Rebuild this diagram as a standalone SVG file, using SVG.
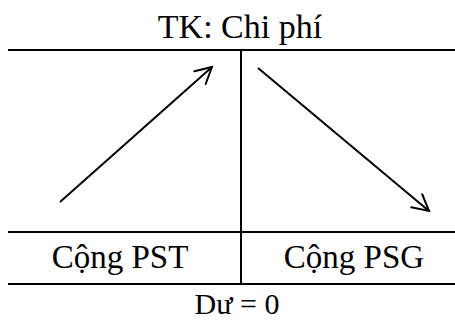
<svg xmlns="http://www.w3.org/2000/svg" width="455" height="322" viewBox="0 0 455 322">
  <style>
    .rule { stroke: #000; stroke-width: 2; fill: none; }
    .flow { stroke: #000; stroke-width: 2; fill: none; marker-end: url(#head); }
    .lbl { font-family: "Liberation Serif", "Times New Roman", serif; fill: #000; text-anchor: middle; }
  </style>
  <defs>
    <marker id="head" viewBox="0 0 20 20" refX="18" refY="10" markerWidth="20" markerHeight="20" markerUnits="userSpaceOnUse" orient="auto">
      <path d="M2,1.5 L18,10 L2,18.5" stroke="#000" stroke-width="2" fill="none" stroke-linecap="round" stroke-linejoin="miter"/>
    </marker>
  </defs>

  <g id="title">
    <text class="lbl" x="240" y="38" font-size="34">TK: Chi phí</text>
  </g>

  <g id="account-frame">
    <line class="rule" x1="8" y1="50" x2="455" y2="50"/>
    <line class="rule" x1="241" y1="50" x2="241" y2="284"/>
    <line class="rule" x1="8" y1="232" x2="455" y2="232"/>
    <line class="rule" x1="8" y1="284" x2="455" y2="284"/>
  </g>

  <g id="debit-total">
    <text class="lbl" x="120" y="268" font-size="33">Cộng PST</text>
  </g>
  <g id="credit-total">
    <text class="lbl" x="354" y="268" font-size="33">Cộng PSG</text>
  </g>
  <g id="balance">
    <text class="lbl" x="237" y="314" font-size="30">Dư = 0</text>
  </g>

  <g id="connectors">
    <line class="flow" x1="60" y1="202" x2="212" y2="67"/>
    <line class="flow" x1="258" y1="68" x2="429" y2="211"/>
  </g>
</svg>
